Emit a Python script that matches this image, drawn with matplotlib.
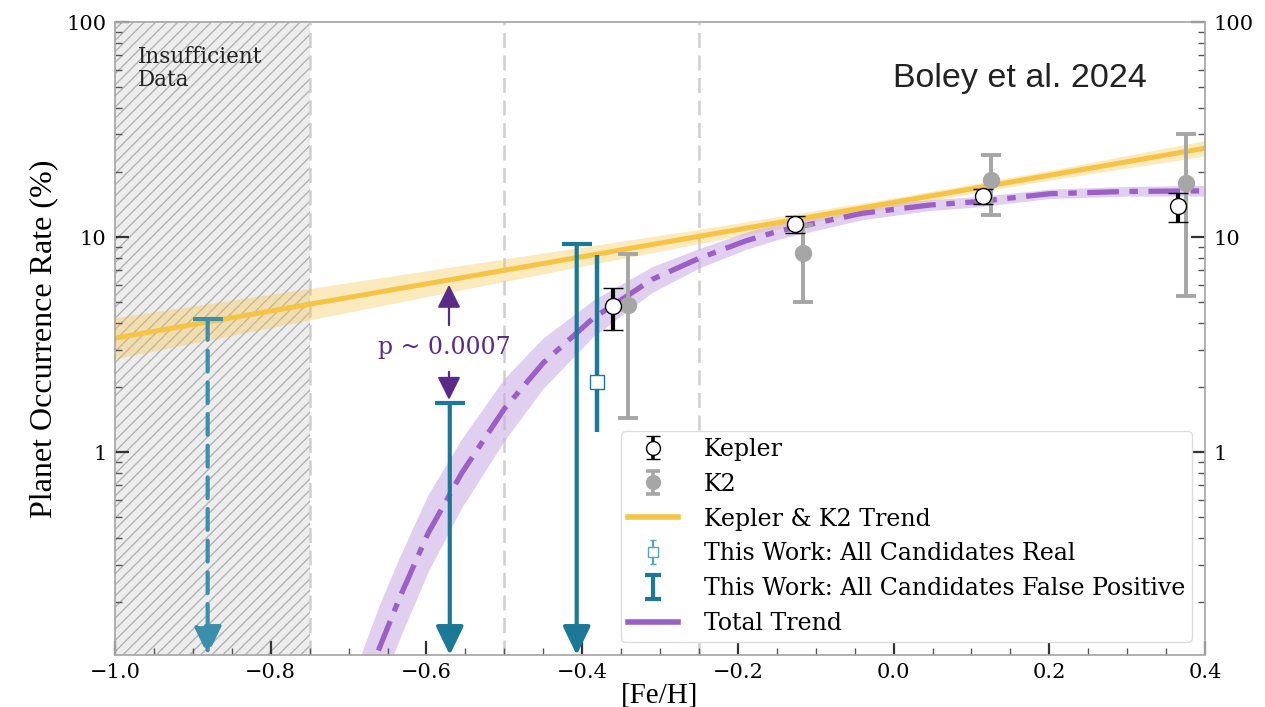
import numpy as np
import matplotlib
matplotlib.use("Agg")
import matplotlib.pyplot as plt
from matplotlib.lines import Line2D
from matplotlib.ticker import FixedLocator, FuncFormatter, LogLocator, MultipleLocator, NullFormatter

# ---------------- data ----------------
kepler_feh = [-0.360, -0.127, 0.115, 0.365]
kepler_rate = [4.78, 11.5, 15.5, 14.0]
kepler_lo = [3.69, 10.5, 14.3, 11.8]
kepler_hi = [5.77, 12.5, 16.8, 16.1]

k2_feh = [-0.341, -0.116, 0.125, 0.375]
k2_rate = [4.83, 8.4, 18.4, 17.9]
k2_lo = [1.44, 5.0, 12.7, 5.3]
k2_hi = [8.3, 11.4, 24.1, 30.1]

trend_feh = [-1.0, 0.4]
trend_rate = [3.39, 25.9]
trend_band_feh = [-1.0, -0.75, -0.5, -0.25, 0.0, 0.2, 0.4]
trend_band_lo = [2.72, 4.12, 6.22, 9.33, 13.8, 18.4, 23.8]
trend_band_hi = [4.22, 5.77, 7.91, 10.86, 15.2, 20.4, 28.1]

total_feh = [-0.70, -0.66, -0.634, -0.598, -0.555, -0.50, -0.45, -0.386, -0.31,
             -0.25, -0.19, -0.146, -0.04, 0.047, 0.107, 0.2, 0.3, 0.4]
total_rate = [0.050, 0.124, 0.212, 0.419, 0.796, 1.59, 2.60, 4.19, 6.36,
              7.96, 9.6, 10.7, 12.9, 14.1, 14.6, 15.9, 16.3, 16.4]
total_lo = [0.031, 0.078, 0.137, 0.277, 0.55, 1.13, 1.98, 3.44, 5.53,
            7.18, 8.75, 9.82, 12.05, 13.3, 13.8, 15.1, 15.5, 15.5]
total_hi = [0.080, 0.197, 0.329, 0.634, 1.15, 2.20, 3.40, 5.09, 7.29,
            8.83, 10.52, 11.64, 13.84, 14.93, 15.4, 16.7, 17.2, 17.4]

real_feh = [-0.381]
real_rate = [2.12]
real_lo = [1.24]
real_hi = [8.25]

fp_feh = [-0.881, -0.570, -0.407]
fp_upper = [4.16, 1.69, 9.27]
fp_dashed = [True, False, False]

insufficient_feh = [-1.0, -0.75]
divider_feh = [-0.75, -0.5, -0.25]

p_text = "p ~ 0.0007"
p_feh = -0.571
p_text_y = 3.05
p_up = (3.9, 6.0)
p_down = (2.36, 1.75)

x_ticks = [-1.0, -0.8, -0.6, -0.4, -0.2, 0.0, 0.2, 0.4]
y_ticks = [1, 10, 100]

# ---------------- style ----------------
YELLOW = "#f6c445"
PURPLE = "#9b5fc6"
PURPLE_BAND = "#c9a9e4"
TEAL = "#1b7896"
TEAL_LIGHT = "#4fa6c2"
GRAY = "#a6a6a6"
DARKPURPLE = "#5a2a86"

plt.rcParams["font.family"] = ["DejaVu Serif"]

fig = plt.figure(figsize=(12.65, 7.07), dpi=100)
ax = fig.add_axes([115 / 1265, 52 / 707, 1090 / 1265, 633 / 707])

ax.set_yscale("log")
ax.set_xlim(-1.0, 0.4)
ax.set_ylim(0.114, 100)

# insufficient data region
ax.axvspan(insufficient_feh[0], insufficient_feh[1], facecolor="#ededed",
           edgecolor="#b3b3b3", hatch="///", lw=0, zorder=0)
for xv in divider_feh:
    ax.axvline(xv, color="#cfcfcf", lw=1.8, dashes=(6, 3), zorder=0.5)

# Kepler & K2 trend
ax.fill_between(trend_band_feh, trend_band_lo, trend_band_hi, color=YELLOW,
                alpha=0.35, lw=0, zorder=1)
ax.plot(trend_feh, trend_rate, color=YELLOW, lw=3.6, zorder=2,
        solid_capstyle="butt")

# total trend
ax.fill_between(total_feh, total_lo, total_hi, color=PURPLE_BAND, alpha=0.55,
                lw=0, zorder=1)
ax.plot(total_feh, total_rate, color=PURPLE, lw=3.8, dashes=(6, 2, 1.6, 2),
        zorder=2.5)

# upper limits (all candidates false positive)
for xv, top, dashed in zip(fp_feh, fp_upper, fp_dashed):
    col = "#3d8eab" if dashed else TEAL
    ax.annotate("", xy=(xv, 0), xycoords=("data", "axes fraction"),
                xytext=(xv, top), textcoords="data",
                arrowprops=dict(arrowstyle="-|>,head_length=0.62,head_width=0.3",
                                color=col, lw=3.0, shrinkA=0, shrinkB=0,
                                mutation_scale=28,
                                linestyle=(0, (5, 2.6)) if dashed else "-"),
                zorder=3)
    ax.plot([xv], [top], marker="_", ms=22, mew=3.0, color=col, zorder=3)

# this work: all candidates real
ax.errorbar(real_feh, real_rate,
            yerr=[np.subtract(real_rate, real_lo), np.subtract(real_hi, real_rate)],
            fmt="s", ms=10, mfc="white", mec=TEAL, mew=1.0, ecolor=TEAL,
            elinewidth=3.2, capsize=0, zorder=3.5)

# K2
ax.errorbar(k2_feh, k2_rate,
            yerr=[np.subtract(k2_rate, k2_lo), np.subtract(k2_hi, k2_rate)],
            fmt="o", ms=11.5, color=GRAY, mfc=GRAY, mec=GRAY, elinewidth=2.8,
            capsize=7.5, capthick=2.8, zorder=4)

# Kepler
ax.errorbar(kepler_feh, kepler_rate,
            yerr=[np.subtract(kepler_rate, kepler_lo), np.subtract(kepler_hi, kepler_rate)],
            fmt="o", ms=11.5, mfc="white", mec="black", mew=1.0, ecolor="black",
            elinewidth=3.0, capsize=7, capthick=3.0, zorder=5)

# p-value annotation
arrow_kw = dict(arrowstyle="-|>,head_length=0.7,head_width=0.35", color=DARKPURPLE,
                lw=1.6, shrinkA=0, shrinkB=0, mutation_scale=20)
ax.annotate("", xy=(p_feh, p_up[1]), xytext=(p_feh, p_up[0]), arrowprops=arrow_kw, zorder=6)
ax.annotate("", xy=(p_feh, p_down[1]), xytext=(p_feh, p_down[0]), arrowprops=arrow_kw, zorder=6)
ax.text(p_feh - 0.006, p_text_y, p_text, ha="center", va="center", fontsize=17,
        color=DARKPURPLE, zorder=6)

ax.text(0.021, 0.962, "Insufficient\nData", transform=ax.transAxes, ha="left",
        va="top", fontsize=15.5, linespacing=1.05, color="#222222", zorder=6)

fig.text(1020 / 1265, 1 - 78 / 707, "Boley et al. 2024", ha="center", va="center",
         fontsize=24.5, family="Liberation Sans", color="#222222")

# ticks / axes
ax.xaxis.set_major_locator(FixedLocator(x_ticks))
ax.xaxis.set_minor_locator(MultipleLocator(0.05))
ax.yaxis.set_major_locator(FixedLocator(y_ticks))
ax.yaxis.set_minor_locator(LogLocator(base=10, subs=np.arange(2, 10)))
ax.yaxis.set_major_formatter(FuncFormatter(lambda v, p: f"{v:g}"))
ax.yaxis.set_minor_formatter(NullFormatter())
ax.tick_params(axis="both", which="major", direction="in", length=10, width=1.6,
               labelsize=15, color="#333333", pad=6)
ax.tick_params(axis="both", which="minor", direction="in", length=5, width=1.0,
               color="#555555")
ax.tick_params(axis="y", which="both", left=True, right=True, labelleft=True,
               labelright=True)
ax.tick_params(axis="x", which="both", top=False)
for s in ax.spines.values():
    s.set_color("#aaaaaa")
    s.set_linewidth(1.3)

ax.set_xlabel("[Fe/H]", family="Liberation Serif", fontsize=21, labelpad=0)
ax.set_ylabel("Planet Occurrence Rate (%)", family="Liberation Serif", fontsize=23,
              labelpad=6)

# legend
h_kep = ax.errorbar([np.nan], [np.nan], yerr=[[1], [1]], fmt="o", ms=10, mfc="white",
                    mec="black", mew=1.0, ecolor="black", elinewidth=2.6, capsize=5,
                    capthick=2.8)
h_k2 = ax.errorbar([np.nan], [np.nan], yerr=[[1], [1]], fmt="o", ms=10, color=GRAY,
                   elinewidth=2.6, capsize=5, capthick=2.6)
h_trend = Line2D([], [], color=YELLOW, lw=4)
h_real = ax.errorbar([np.nan], [np.nan], yerr=[[1], [1]], fmt="s", ms=7, mfc="white",
                     mec=TEAL_LIGHT, mew=1.0, ecolor=TEAL_LIGHT, elinewidth=1.5,
                     capsize=2.5, capthick=2)
h_fp = ax.errorbar([np.nan], [np.nan], yerr=[[1], [1]], fmt="none", ecolor=TEAL,
                   elinewidth=3, capsize=6, capthick=3)
h_total = Line2D([], [], color=PURPLE, lw=4)
leg = ax.legend([h_kep, h_k2, h_trend, h_real, h_fp, h_total],
                ["Kepler", "K2", "Kepler & K2 Trend", "This Work: All Candidates Real",
                 "This Work: All Candidates False Positive", "Total Trend"],
                loc="lower right", fontsize=17, frameon=True, fancybox=True,
                framealpha=1.0, edgecolor="#dddddd", borderaxespad=0.55,
                labelspacing=0.5, handlelength=2.1, handletextpad=1.1,
                borderpad=0.3)
leg.set_zorder(10)

fig.savefig("out.png", dpi=100)
